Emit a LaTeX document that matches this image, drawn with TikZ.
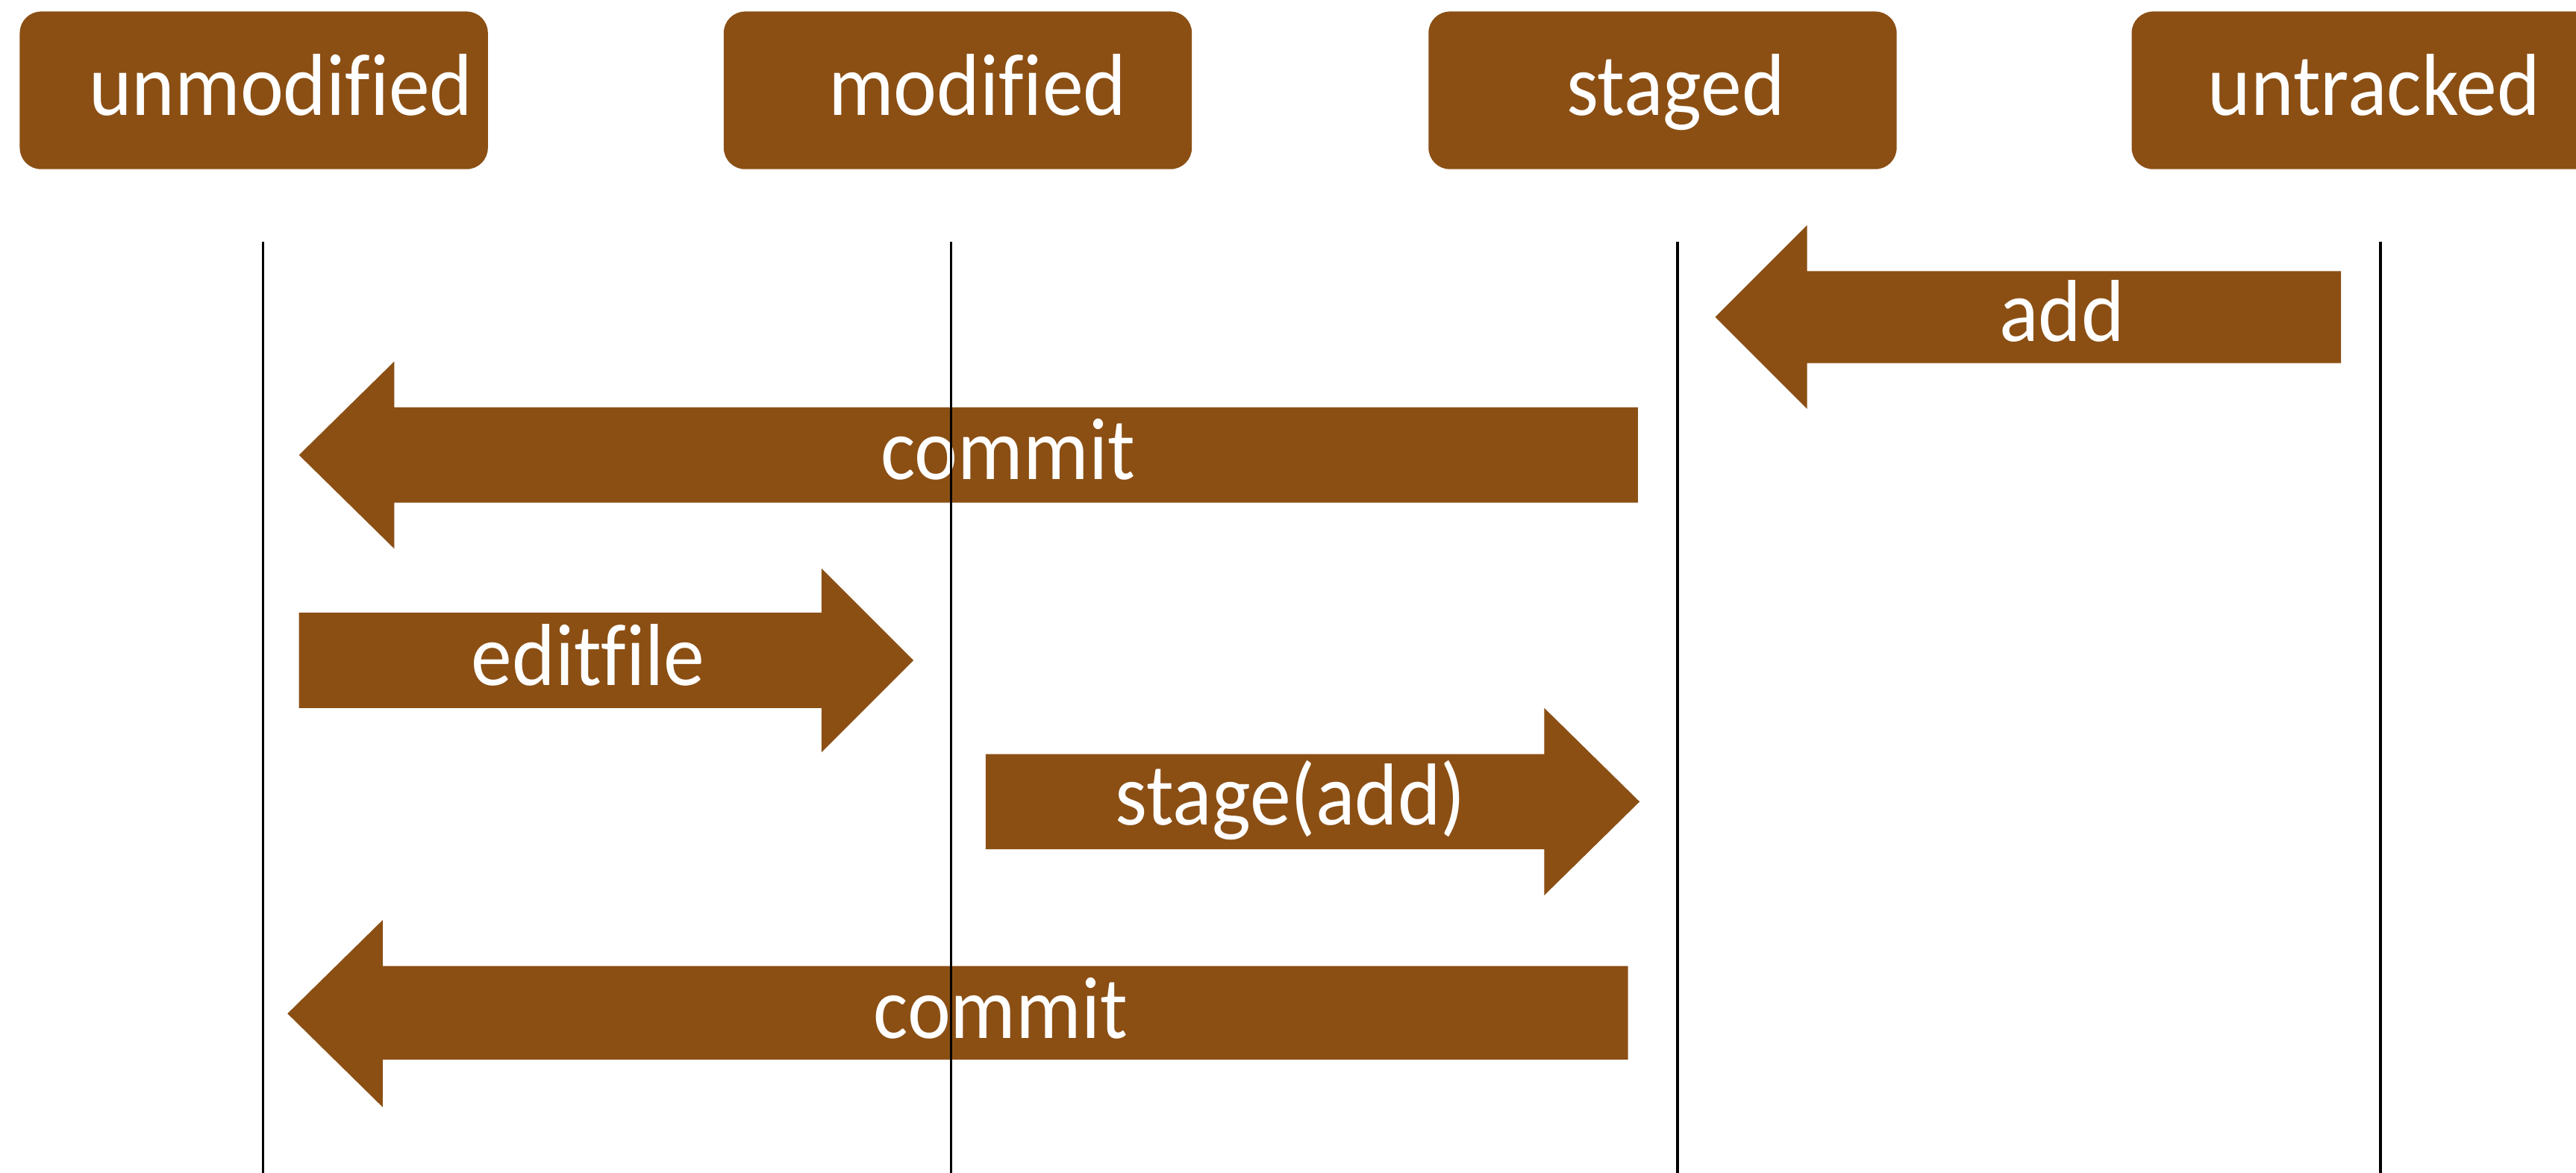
\documentclass[tikz,border=0pt]{standalone}
\usepackage{fontspec}
\setmainfont{Carlito}[Ligatures=NoCommon,FakeStretch=0.93]
\definecolor{gitbrown}{RGB}{139,79,20}
\begin{document}
\begin{tikzpicture}[x=0.02cm,y=-0.02cm,
  statebox/.style={fill=gitbrown,rounded corners=0.26cm,minimum width=5.7cm,minimum height=1.92cm,inner sep=0pt},
  lbl/.style={text=white,font=\fontsize{30.5}{34}\selectfont,anchor=base,inner sep=0pt},
  shaft/.style={fill=gitbrown},
  lifeline/.style={draw=black,line width=0.9pt}]
\useasboundingbox (0,0) rectangle (1568,714);
\fill[white] (0,0) rectangle (1568,714);
% state boxes
\node[statebox] (unm) at (154.5,55) {};
\node[statebox] (mod) at (583,55) {};
\node[statebox] (stg) at (1012,55) {};
\node[statebox] (unt) at (1440,55) {};
\node[lbl] (unmt) at (171,70) {unmodified};
\node[lbl] (modt) at (595,70) {modified};
\node[lbl] (stgt) at (1020,70) {staged};
\node[lbl] (untt) at (1445,70) {untracked};
% arrows
\fill[shaft] (1425,165) -- (1100,165) -- (1100,137) -- (1044,193) -- (1100,249) -- (1100,221) -- (1425,221) -- cycle;
\fill[shaft] (997,248) -- (240,248) -- (240,220) -- (182,277) -- (240,334) -- (240,306) -- (997,306) -- cycle;
\fill[shaft] (182,373) -- (500,373) -- (500,346) -- (556,402) -- (500,458) -- (500,431) -- (182,431) -- cycle;
\fill[shaft] (600,459) -- (940,459) -- (940,431) -- (998,488) -- (940,545) -- (940,517) -- (600,517) -- cycle;
\fill[shaft] (991,588) -- (233,588) -- (233,560) -- (175,617) -- (233,674) -- (233,645) -- (991,645) -- cycle;
\node[lbl] (addt) at (1255,208) {add};
\node[lbl] (com1) at (613.5,292) {commit};
\node[lbl] (edit) at (358,417) {editfile};
\node[lbl] (stad) at (785.5,502) {stage(add)};
\node[lbl] (com2) at (609,632) {commit};
% lifelines
\coordinate (l1t) at (160,147); \coordinate (l1b) at (160,714);
\coordinate (l2t) at (579,147); \coordinate (l2b) at (579,714);
\coordinate (l3t) at (1021,147); \coordinate (l3b) at (1021,714);
\coordinate (l4t) at (1449,147); \coordinate (l4b) at (1449,714);
\draw[lifeline] (l1t) -- (l1b);
\draw[lifeline] (l2t) -- (l2b);
\draw[lifeline] (l3t) -- (l3b);
\draw[lifeline] (l4t) -- (l4b);
\end{tikzpicture}
\end{document}
